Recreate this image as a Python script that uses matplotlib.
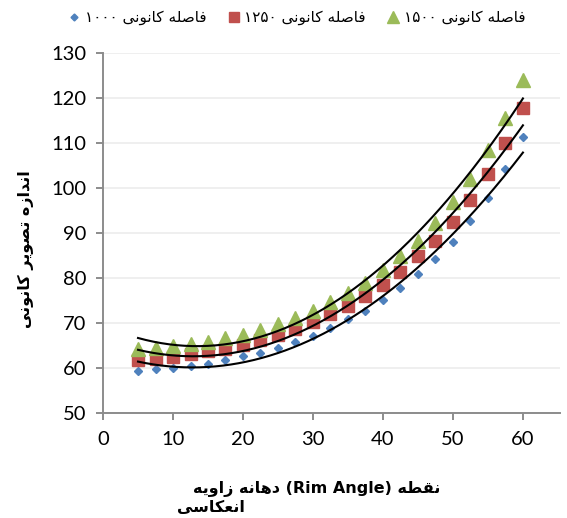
import numpy as np
import matplotlib
matplotlib.use("Agg")
import matplotlib.pyplot as plt

# --- minimal persian shaping (matplotlib has no bidi / joining) ---
# letter: (isolated, final, initial, medial); None = letter does not join to the next one
FORMS = {
    "ا": ("\uFE8D", "\uFE8E", None, None),
    "د": ("\uFEA9", "\uFEAA", None, None),
    "ر": ("\uFEAD", "\uFEAE", None, None),
    "ز": ("\uFEAF", "\uFEB0", None, None),
    "و": ("\uFEED", "\uFEEE", None, None),
    "ت": ("\uFE95", "\uFE96", "\uFE97", "\uFE98"),
    "س": ("\uFEB1", "\uFEB2", "\uFEB3", "\uFEB4"),
    "ص": ("\uFEB9", "\uFEBA", "\uFEBB", "\uFEBC"),
    "ط": ("\uFEC1", "\uFEC2", "\uFEC3", "\uFEC4"),
    "ع": ("\uFEC9", "\uFECA", "\uFECB", "\uFECC"),
    "ف": ("\uFED1", "\uFED2", "\uFED3", "\uFED4"),
    "ق": ("\uFED5", "\uFED6", "\uFED7", "\uFED8"),
    "ل": ("\uFEDD", "\uFEDE", "\uFEDF", "\uFEE0"),
    "ن": ("\uFEE5", "\uFEE6", "\uFEE7", "\uFEE8"),
    "ه": ("\uFEE9", "\uFEEA", "\uFEEB", "\uFEEC"),
    "ک": ("\uFB8E", "\uFB8F", "\uFB90", "\uFB91"),
    "ی": ("\uFBFC", "\uFBFD", "\uFBFE", "\uFBFF"),
}


def shape_word(w):
    out = []
    for i, ch in enumerate(w):
        if ch not in FORMS:
            out.append(ch)
            continue
        f = FORMS[ch]
        prev_j = i > 0 and w[i - 1] in FORMS and FORMS[w[i - 1]][2] is not None
        next_j = i < len(w) - 1 and w[i + 1] in FORMS and f[2] is not None
        if prev_j and next_j:
            out.append(f[3])
        elif prev_j:
            out.append(f[1])
        elif next_j:
            out.append(f[2])
        else:
            out.append(f[0])
    return "".join(out[::-1])


def rtl(words):
    # words given in reading order (right to left), returned in visual order
    return " ".join(shape_word(w) if w[0] in FORMS else w for w in words[::-1])


# --- data ---
rim_angle = [5, 7.5, 10, 12.5, 15, 17.5, 20, 22.5, 25, 27.5, 30, 32.5,
             35, 37.5, 40, 42.5, 45, 47.5, 50, 52.5, 55, 57.5, 60]
focal_1000 = [59.4, 59.7, 60.0, 60.4, 61.0, 61.7, 62.6, 63.4, 64.5, 65.8, 67.2, 68.9,
              70.8, 72.7, 75.1, 77.7, 80.8, 84.3, 88.0, 92.6, 97.8, 104.2, 111.4]
focal_1250 = [61.7, 62.1, 62.5, 63.0, 63.7, 64.3, 65.1, 66.2, 67.4, 68.6, 70.3, 72.0,
              73.8, 76.1, 78.5, 81.4, 84.9, 88.3, 92.5, 97.4, 103.2, 110.0, 117.8]
focal_1500 = [64.2, 64.5, 64.9, 65.4, 65.8, 66.6, 67.3, 68.5, 69.7, 71.0, 72.7, 74.6,
              76.6, 78.8, 81.7, 84.9, 88.3, 92.2, 96.8, 102.1, 108.4, 115.5, 123.9]
series_nums = ["۱۰۰۰", "۱۲۵۰", "۱۵۰۰"]
x_ticks = [0, 10, 20, 30, 40, 50, 60]
y_ticks = [50, 60, 70, 80, 90, 100, 110, 120, 130]

colors = ["#4F81BD", "#C0504D", "#9BBB59"]
markers = ["D", "s", "^"]
msizes = [4.4, 8.5, 10]

fig = plt.figure(figsize=(5.67, 5.18), dpi=100)
ax = fig.add_axes([0.1817, 0.2027, 0.806, 0.695])

x = np.array(rim_angle)
for vals, num, c, m, ms in zip([focal_1000, focal_1250, focal_1500], series_nums,
                               colors, markers, msizes):
    ax.plot(x, vals, linestyle="none", marker=m, ms=ms, color=c, mec=c,
            label=num + " " + rtl(["فاصله", "کانونی"]), zorder=3)
    # second order trendline
    p = np.polyfit(x, vals, 2)
    xx = np.linspace(x.min(), x.max(), 200)
    ax.plot(xx, np.polyval(p, xx), color="black", lw=1.5, zorder=4)

ax.set_xlim(0, 65.3)
ax.set_ylim(50, 130)
ax.set_xticks(x_ticks)
ax.set_yticks(y_ticks)
ax.grid(axis="y", color="#ececec", lw=1.2)
ax.set_axisbelow(True)
for s in ["top", "right"]:
    ax.spines[s].set_visible(False)
for s in ["left", "bottom"]:
    ax.spines[s].set_color("#8c8c8c")
    ax.spines[s].set_linewidth(1.4)
ax.tick_params(colors="#8c8c8c", width=1.4, length=5, labelcolor="black",
               labelsize=14.5)
ax.tick_params(axis="y", pad=7)
ax.tick_params(axis="x", pad=8)
for lab in ax.get_xticklabels() + ax.get_yticklabels():
    lab.set_family("Lato")

leg = fig.legend(loc="center", bbox_to_anchor=(0.522, 0.966), ncol=3, frameon=False,
                 prop={"family": "DejaVu Sans", "size": 11}, handletextpad=0.2,
                 columnspacing=1.3, handlelength=1.0, markerscale=0.8)

fig.text(0.558, 0.056, rtl(["دهانه", "زاویه"]) + " (Rim Angle) " + shape_word("نقطه"),
         ha="center", va="center", fontsize=11.5, fontweight="bold", family="DejaVu Sans")
fig.text(0.312, 0.02, shape_word("انعکاسی"), ha="left", va="center",
         fontsize=11.5, fontweight="bold", family="DejaVu Sans")
fig.text(0.045, 0.52, rtl(["اندازه", "تصویر", "کانونی"]), rotation=90,
         ha="center", va="center", fontsize=11.5, fontweight="bold", family="DejaVu Sans")

fig.savefig("out.png", dpi=100)
